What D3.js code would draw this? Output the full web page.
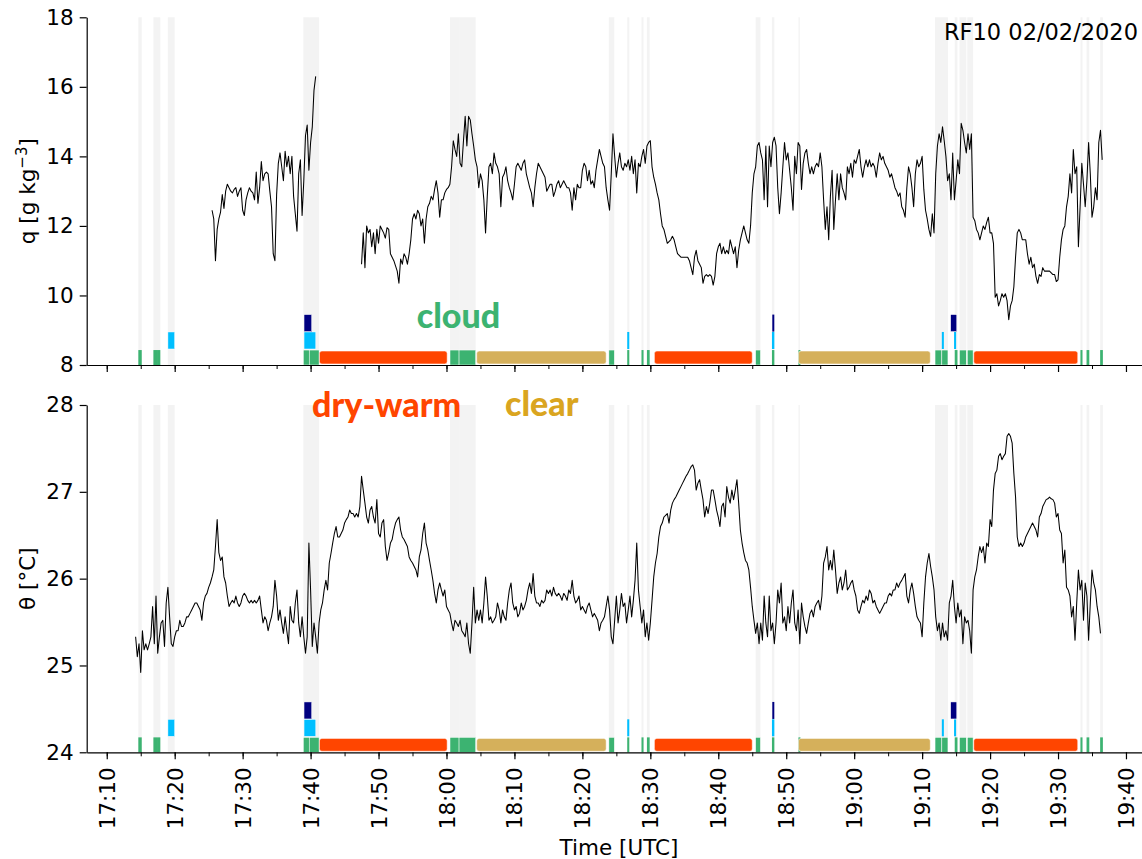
<!DOCTYPE html>
<html>
<head>
<meta charset="utf-8">
<script src="https://cdn.jsdelivr.net/npm/d3@7/dist/d3.min.js"></script>
<style>
  body { margin: 0; background: #fff; }
  text { font-family: "DejaVu Sans", sans-serif; }
</style>
</head>
<body>
<svg id="chart" width="1142" height="859"></svg>
<script>
// sampling of the flight series (one value every 15 s)
const sampleSec = 15;

// specific humidity, first leg and second leg
const qAStart = "17:25:30";
const qA = [
  12.45, 12.2, 11.0, 11.9, 12.2, 12.4, 12.9, 12.5, 13.0, 13.2,
  13.1, 13.0, 12.95, 13.05, 13.1, 12.85, 13.0, 13.1, 12.45, 12.3,
  12.75, 12.95, 13.1, 13.0, 12.95, 12.75, 13.55, 12.65, 13.1,
  13.85, 13.3, 13.5, 13.55, 13.5, 13.0, 12.55, 11.2, 11.0, 12.9,
  13.8, 14.1, 13.7, 13.3, 14.15, 13.7, 14.0, 13.5, 14.0, 12.85,
  12.35, 11.85, 13.5, 13.9, 12.3, 13.3, 14.6, 14.9, 13.6, 14.4,
  14.85, 15.9, 16.3
];

const qBStart = "17:47:30";
const qB = [
  10.9, 11.8, 10.8, 12.0, 11.8, 11.9, 11.4, 11.8, 11.2, 11.9, 11.5,
  12.0, 11.9, 11.8, 11.65, 11.95, 11.9, 11.2, 11.1, 11.0, 10.85,
  10.7, 10.35, 11.05, 10.9, 11.2, 11.1, 10.9, 11.2, 11.6, 12.2,
  12.35, 12.2, 12.45, 12.35, 12.0, 12.2, 11.5, 12.2, 12.55, 12.65,
  12.85, 12.75, 13.05, 13.3, 12.95, 12.25, 12.75, 12.75, 12.95, 13.05,
  13.1, 13.2, 13.7, 14.45, 14.2, 14.0, 14.65, 13.8, 13.7,
  14.45, 15.15, 14.3, 15.15, 15.05, 14.65, 14.3, 13.9, 13.7, 13.1,
  13.5, 13.3, 12.75, 11.8, 12.85, 13.7, 13.8, 13.5, 14.1, 13.8,
  13.7, 13.5, 12.55, 13.4, 13.5, 13.7, 13.3, 13.1, 12.95, 12.75,
  13.2, 13.7, 13.8, 13.7, 13.6, 13.8, 13.9, 13.5, 13.3, 13.1,
  12.95, 12.55, 13.1, 13.5, 13.8, 13.7, 13.6, 13.5, 13.4,
  13.0, 13.1, 13.2, 13.2, 12.85, 13.0, 13.2, 13.3, 13.1, 13.2,
  13.3, 13.2, 13.1, 13.1, 12.95, 12.45, 13.1, 12.75, 13.2, 13.1,
  13.1, 13.6, 13.8, 13.7, 13.3, 13.6, 13.2, 13.3, 13.1, 13.6,
  13.9, 14.2, 14.0, 13.8, 13.7, 13.1, 12.75, 12.45, 13.5, 14.65,
  14.0, 13.4, 13.8, 14.1, 13.7, 13.6, 13.8, 13.7, 13.9,
  13.6, 14.0, 13.5, 13.9, 12.95, 13.8, 13.7, 14.0, 14.2, 13.8,
  14.3, 14.4, 14.45, 13.7, 13.4, 13.2, 12.95, 12.75, 12.35, 12.0,
  11.9, 11.7, 11.5, 11.55, 11.6, 11.7, 11.6, 11.4, 11.2, 11.15,
  11.1, 11.1, 11.1, 11.1, 11.1, 11.0, 10.8, 10.6, 11.1, 11.3,
  11.0, 10.9, 10.8, 10.35, 10.55, 10.6, 10.55, 10.6, 10.55,
  10.3, 10.55, 11.2, 11.4, 11.5, 11.2, 11.4, 11.2, 11.3, 11.2,
  11.6, 11.4, 11.2, 11.4, 10.8, 11.3, 11.6, 11.8, 12.0, 11.8,
  11.6, 11.5, 12.0, 12.95, 13.5, 13.7, 14.3, 14.4, 14.1, 13.9,
  12.75, 14.3, 12.55, 14.3, 13.7, 14.4, 14.55, 14.3, 13.1, 12.35,
  12.95, 13.7, 14.4, 13.9, 14.1, 13.6, 13.1, 12.45, 14.0, 13.5,
  14.4, 14.3, 13.05, 13.8, 14.1, 14.2, 13.8, 13.5, 13.7, 13.5,
  13.7, 13.8, 13.7, 14.1, 13.7, 12.75, 11.9, 12.55, 11.6, 12.85,
  13.6, 11.9, 12.75, 13.5, 12.75, 13.5, 13.1, 12.95, 12.75, 13.7,
  13.5, 13.8, 13.4, 13.9, 13.8, 14.0, 14.2, 13.7, 13.4,
  13.7, 13.9, 13.7, 13.9, 13.7, 13.8, 13.7, 13.4, 13.8, 14.1,
  13.9, 14.0, 13.8, 13.7, 13.6, 13.4, 13.5, 13.3, 13.1, 13.0,
  12.85, 12.95, 12.55, 12.45, 12.25, 13.1, 13.7, 13.5, 13.1, 12.55,
  13.5, 13.9, 13.7, 13.8, 14.0, 13.05, 12.45, 12.2, 11.9, 11.7,
  12.35, 11.8, 13.5, 14.3, 14.65, 14.4, 14.85, 14.45, 14.0,
  13.3, 13.5, 12.75, 14.1, 12.75, 13.3, 13.9, 13.5, 14.95, 14.75,
  14.4, 14.1, 14.65, 14.2, 14.65, 12.25, 12.15, 11.9, 11.8, 11.6,
  11.8, 12.0, 11.9, 12.1, 12.25, 11.8, 11.8, 11.5, 9.95, 10.05,
  9.7, 9.85, 10.05, 9.95, 10.05, 9.85, 9.3, 9.7, 9.85, 10.25,
  11.1, 11.8, 11.9, 11.8, 11.6, 11.6, 11.6, 11.2, 10.9,
  11.1, 10.8, 10.9, 10.55, 10.35, 10.6, 10.55, 10.8, 10.7, 10.7,
  10.7, 10.7, 10.65, 10.6, 10.6, 10.4, 10.45, 11.1, 11.6, 11.9,
  12.0, 12.55, 12.85, 13.5, 12.95, 14.2, 13.5, 13.7, 11.4, 12.55,
  13.8, 13.2, 12.55, 13.3, 14.4, 13.5, 12.25, 12.55, 13.1,
  12.75, 14.4, 14.75, 13.9
];

// potential temperature
const thetaStart = "17:14:15";
const theta = [
  25.33, 25.1, 25.25, 24.92, 25.4, 25.18, 25.25, 25.18, 25.25, 25.33,
  25.68, 25.25, 25.8, 25.14, 25.33, 25.49, 25.52, 25.22, 25.72, 25.9,
  25.56, 25.25, 25.22, 25.33, 25.4, 25.4, 25.52, 25.45, 25.45, 25.49,
  25.56, 25.56, 25.6, 25.64, 25.68, 25.72, 25.72, 25.68, 25.64, 25.52,
  25.72, 25.8, 25.83, 25.9, 25.95, 26.02, 26.1, 26.37, 26.68, 26.3,
  26.21, 26.25, 26.02, 25.95, 25.8, 25.68, 25.72, 25.75, 25.72,
  25.8, 25.72, 25.68, 25.72, 25.8, 25.83, 25.8, 25.75, 25.72, 25.75,
  25.72, 25.75, 25.72, 25.75, 25.8, 25.64, 25.49, 25.56, 25.52, 25.4,
  25.49, 25.56, 25.68, 25.98, 25.8, 25.52, 25.64, 25.49, 25.37, 25.56,
  25.4, 25.25, 25.68, 25.52, 25.49, 25.72, 25.87, 25.49, 25.33, 25.56,
  25.33, 25.14, 25.33, 26.41, 25.87, 25.22, 25.49, 25.33, 25.14,
  25.49, 25.64, 25.72, 25.87, 25.98, 25.87, 26.18, 26.29, 26.41, 26.52,
  26.6, 26.48, 26.48, 26.52, 26.56, 26.64, 26.68, 26.71, 26.79, 26.75,
  26.75, 26.71, 26.75, 26.71, 26.83, 27.18, 27.02, 26.87, 26.71, 26.64,
  26.79, 26.83, 26.71, 26.64, 26.91, 26.52,
  26.48, 26.64, 26.68, 26.37, 26.21, 26.3, 26.41, 26.45, 26.56, 26.64,
  26.68, 26.71, 26.56, 26.48, 26.45, 26.41, 26.37, 26.25, 26.21, 26.18,
  26.14, 26.1, 26.02, 26.25, 26.33, 26.52, 26.64, 26.41, 26.33, 26.21,
  26.1, 25.98, 25.83, 25.72, 25.87, 25.95, 25.87, 25.8, 25.87, 25.68,
  25.64, 25.6, 25.49, 25.4, 25.52, 25.49, 25.45, 25.52, 25.4,
  25.37, 25.33, 25.49, 25.25, 25.14, 25.49, 25.9, 25.49, 25.64, 25.52,
  25.64, 25.49, 25.72, 26.02, 25.8, 25.52, 25.56, 25.49, 25.52, 25.56,
  25.72, 25.64, 25.49, 25.64, 25.56, 25.52, 25.72, 25.87, 25.95, 25.72,
  25.64, 25.68, 25.56, 25.6, 25.72, 25.64, 25.68, 25.75, 25.87, 25.95,
  25.83, 26.06, 25.8, 25.72, 25.72, 25.68, 25.75, 25.72, 25.75,
  25.87, 25.83, 25.87, 25.8, 25.9, 25.83, 25.8, 25.83, 25.8, 25.75,
  25.83, 25.8, 25.75, 25.87, 25.83, 25.98, 25.8, 25.72, 25.75, 25.8,
  25.64, 25.68, 25.64, 25.6, 25.68, 25.72, 25.64, 25.56, 25.6, 25.56,
  25.52, 25.4, 25.49, 25.52, 25.56, 25.68, 25.8, 25.64, 25.33, 25.25,
  25.52, 25.8, 25.49, 25.64, 25.83, 25.68, 25.72, 25.49, 25.64,
  25.8, 25.56, 25.75, 25.98, 26.41, 25.87, 25.68, 25.49, 25.64, 25.33,
  25.49, 25.29, 25.49, 25.75, 26.02, 26.18, 26.29, 26.48, 26.6, 26.64,
  26.71, 26.73, 26.75, 26.64, 26.79, 26.87, 26.91, 26.94, 26.98, 27.02,
  27.06, 27.1, 27.14, 27.18, 27.21, 27.25, 27.29, 27.31, 27.25, 27.02,
  27.1, 27.14, 27.02, 26.91, 26.71, 26.83, 26.75, 26.87, 27.02,
  27.02, 26.91, 26.79, 26.71, 26.6, 26.83, 26.87, 26.71, 27.06, 26.94,
  26.87, 27.02, 26.91, 27.02, 27.14, 26.87, 26.56, 26.41, 26.3, 26.21,
  26.18, 26.1, 25.9, 25.68, 25.52, 25.37, 25.49, 25.25, 25.49, 25.29,
  25.8, 25.49, 25.33, 25.8, 25.4, 25.49, 25.25, 25.49, 25.87, 25.72,
  25.95, 25.49, 25.56, 25.4, 25.68, 25.49, 25.72, 25.87, 25.49, 25.4,
  25.64, 25.25, 25.72, 25.56, 25.45, 25.37, 25.49, 25.6, 25.64, 25.56,
  25.68, 25.72, 25.75, 25.64, 25.8, 26.18, 26.25, 26.37, 26.1, 26.21,
  26.1, 26.33, 26.1, 25.83, 25.95, 26.02, 25.87, 25.95, 26.1, 25.87,
  25.9, 25.95, 25.98, 25.87, 25.8, 25.64, 25.6, 25.68, 25.75, 25.72,
  25.8, 25.75, 25.87, 25.83, 25.72, 25.75, 25.68, 25.64, 25.6,
  25.64, 25.68, 25.72, 25.72, 25.8, 25.83, 25.8, 25.87, 25.87, 25.95,
  25.9, 25.95, 25.98, 26.02, 26.06, 25.8, 25.72, 25.87, 25.95, 25.83,
  25.68, 25.56, 25.52, 25.49, 25.33, 25.72, 26.02, 26.18, 26.29, 26.14,
  26.02, 25.87, 25.56, 25.4, 25.49, 25.29, 25.49, 25.33, 25.4, 25.29,
  25.72, 25.8, 25.98, 25.68, 25.49, 25.72, 25.56, 25.64, 25.25,
  25.56, 25.49, 25.52, 25.4, 25.14, 25.87, 26.02, 26.1, 26.25, 26.37,
  26.3, 26.37, 26.18, 26.41, 26.37, 26.68, 26.6, 27.02, 27.21, 27.25,
  27.41, 27.44, 27.37, 27.41, 27.44, 27.64, 27.67, 27.64, 27.56, 27.21,
  26.94, 26.48, 26.37, 26.41, 26.37, 26.41, 26.48, 26.52, 26.56, 26.6,
  26.64, 26.6, 26.56, 26.48, 26.71, 26.75, 26.83, 26.87, 26.91,
  26.92, 26.94, 26.92, 26.91, 26.87, 26.71, 26.75, 26.56, 26.52, 26.18,
  26.33, 25.9, 25.87, 25.8, 25.56, 25.68, 25.29, 25.72, 26.1, 25.87,
  25.98, 25.52, 25.95, 25.8, 25.29, 25.72, 26.1, 25.95, 25.87,
  25.68, 25.56, 25.37
];

// flagged segments [start, end] UTC
const cloudSegs = [
  ["17:14:39", "17:15:09"], ["17:16:52", "17:17:24"], ["17:17:24", "17:17:53"],
  ["17:38:56", "17:39:48"], ["17:39:48", "17:41:15"],
  ["18:00:31", "18:01:51"], ["18:01:51", "18:04:18"],
  ["18:23:54", "18:24:42"], ["18:26:36", "18:26:54"], ["18:28:42", "18:29:00"],
  ["18:29:30", "18:29:54"], ["18:45:30", "18:46:12"], ["18:47:54", "18:48:15"],
  ["18:51:48", "18:52:00"], ["19:11:54", "19:12:54"], ["19:12:54", "19:13:48"],
  ["19:14:48", "19:15:12"], ["19:15:30", "19:16:30"], ["19:16:39", "19:17:30"],
  ["19:33:18", "19:33:36"], ["19:34:12", "19:34:36"], ["19:36:12", "19:36:36"]
];
const drizzleSegs = [
  ["17:19:00", "17:20:00"], ["17:39:02", "17:40:46"], ["18:26:36", "18:26:54"],
  ["18:47:54", "18:48:15"], ["19:12:54", "19:13:12"], ["19:14:42", "19:15:00"]
];
const rainSegs = [
  ["17:39:02", "17:40:10"], ["18:47:57", "18:48:12"], ["19:14:12", "19:15:06"]
];
const dryWarmSegs = [
  ["17:41:18", "18:00:06"], ["18:30:36", "18:45:00"], ["19:17:36", "19:32:54"]
];
const clearSegs = [
  ["18:04:27", "18:23:30"], ["18:51:48", "19:11:12"]
];

// category labels
const labelText = ["cloud", "dry-warm", "clear"];
const labelTime = ["17:55:37", "17:40:13", "18:08:37"];
const labelPanel = [0, 1, 1];
const labelValue = [9.07, 27.86, 27.87];

const qTicks = [8, 10, 12, 14, 16, 18];
const thetaTicks = [24, 25, 26, 27, 28];
const xLimits = ["17:07:03", "19:42:48"];

// ------------------------------------------------------------------
const parseT = s => {
  const [h, m, sec] = s.split(":").map(Number);
  return new Date(Date.UTC(2020, 1, 2, h, m, sec || 0));
};
const toSeries = (start, vals) => {
  const t0 = parseT(start).getTime();
  return vals.map((v, i) => ({ t: new Date(t0 + i * sampleSec * 1000), v }));
};

const svg = d3.select("#chart");
const x = d3.scaleUtc()
  .domain(xLimits.map(parseT))
  .range([86.7, 1145]);

const panels = [
  { series: [toSeries(qAStart, qA), toSeries(qBStart, qB)], domain: [8, 18], ticks: qTicks,
    top: 17.3, bottom: 365 },
  { series: [toSeries(thetaStart, theta)], domain: [24, 28], ticks: thetaTicks,
    top: 405, bottom: 752.3 }
];

const barRows = [
  { segs: cloudSegs, color: "#3cb371", f: [0, 0.043], rx: 0 },
  { segs: drizzleSegs, color: "#00bfff", f: [0.046, 0.095], rx: 0 },
  { segs: rainSegs, color: "#000080", f: [0.096, 0.145], rx: 0 },
  { segs: dryWarmSegs, color: "#ff4500", f: [0.003, 0.04], rx: 2.5 },
  { segs: clearSegs, color: "#d5b05b", f: [0.003, 0.04], rx: 2.5 }
];

// shade cloud periods, plus drizzle periods that have no cloud flag
const overlaps = (a, b) => parseT(a[0]) < parseT(b[1]) && parseT(b[0]) < parseT(a[1]);
const shadeSegs = cloudSegs.concat(drizzleSegs.filter(d => !cloudSegs.some(c => overlaps(c, d))));

panels.forEach((p, pi) => {
  const y = d3.scaleLinear().domain(p.domain).range([p.bottom, p.top]);
  const span = p.domain[1] - p.domain[0];
  const g = svg.append("g");

  g.append("g").selectAll("rect")
    .data(shadeSegs)
    .join("rect")
    .attr("x", d => x(parseT(d[0])))
    .attr("width", d => Math.max(1, x(parseT(d[1])) - x(parseT(d[0]))))
    .attr("y", p.top)
    .attr("height", p.bottom - p.top)
    .attr("fill", "#d8d8d8")
    .attr("opacity", 0.3);

  barRows.forEach(row => {
    g.append("g").selectAll("rect")
      .data(row.segs)
      .join("rect")
      .attr("x", d => x(parseT(d[0])))
      .attr("width", d => Math.max(2, x(parseT(d[1])) - x(parseT(d[0]))))
      .attr("y", y(p.domain[0] + row.f[1] * span))
      .attr("height", y(p.domain[0] + row.f[0] * span) - y(p.domain[0] + row.f[1] * span))
      .attr("rx", row.rx)
      .attr("fill", row.color)
      .attr("stroke", d => (x(parseT(d[1])) - x(parseT(d[0]))) > 4 ? "#fff" : "none")
      .attr("stroke-width", 0.5);
  });

  const line = d3.line().x(d => x(d.t)).y(d => y(d.v));
  p.series.forEach(s => {
    g.append("path")
      .datum(s)
      .attr("fill", "none")
      .attr("stroke", "#000")
      .attr("stroke-width", 1.05)
      .attr("stroke-linejoin", "round")
      .attr("d", line);
  });

  // y axis
  const ya = g.append("g")
    .attr("transform", `translate(${x.range()[0]},0)`)
    .call(d3.axisLeft(y).tickValues(p.ticks).tickFormat(d3.format("d"))
      .tickSize(7).tickSizeOuter(0).tickPadding(6));
  ya.selectAll("text").style("font-size", "21.5px").attr("fill", "#000");
  ya.selectAll("line, path").attr("stroke", "#000").attr("stroke-width", 1.2);

  // x axis: minor 5-min ticks, major 10-min ticks
  const xMinor = g.append("g")
    .attr("transform", `translate(0,${p.bottom})`)
    .call(d3.axisBottom(x).ticks(d3.utcMinute.every(5)).tickSize(4).tickFormat(""));
  xMinor.select(".domain").remove();
  xMinor.selectAll("line").attr("stroke", "#000").attr("stroke-width", 1);

  const xa = g.append("g")
    .attr("transform", `translate(0,${p.bottom})`)
    .call(d3.axisBottom(x).ticks(d3.utcMinute.every(10)).tickSize(7).tickSizeOuter(0)
      .tickFormat(pi === 1 ? d3.utcFormat("%H:%M") : ""));
  xa.selectAll("line, path").attr("stroke", "#000").attr("stroke-width", 1.2);
  xa.selectAll("text")
    .style("font-size", "21.5px")
    .attr("fill", "#000")
    .attr("transform", "rotate(-90)")
    .attr("x", -15)
    .attr("y", 0)
    .attr("dy", "0.35em")
    .style("text-anchor", "end");

  p.y = y;
});

// y labels
const qLabel = svg.append("text")
  .attr("transform", `translate(35,${(panels[0].top + panels[0].bottom) / 2}) rotate(-90)`)
  .attr("text-anchor", "middle")
  .style("font-size", "21.5px");
qLabel.append("tspan").text("q [g kg");
qLabel.append("tspan").text("\u22123").attr("dy", "-8").style("font-size", "15px");
qLabel.append("tspan").text("]").attr("dy", "8");

svg.append("text")
  .attr("transform", `translate(35,${(panels[1].top + panels[1].bottom) / 2}) rotate(-90)`)
  .attr("text-anchor", "middle")
  .style("font-size", "21.5px")
  .text("\u03b8 [\u00b0C]");

svg.append("text")
  .attr("x", 619)
  .attr("y", 855)
  .attr("text-anchor", "middle")
  .style("font-size", "21.5px")
  .text("Time [UTC]");

svg.append("text")
  .attr("x", 1138)
  .attr("y", 39.5)
  .attr("text-anchor", "end")
  .style("font-size", "22.5px")
  .text("RF10 02/02/2020");

const labelColor = ["#3cb371", "#ff4500", "#daa520"];
labelText.forEach((t, i) => {
  svg.append("text")
    .attr("x", x(parseT(labelTime[i])))
    .attr("y", panels[labelPanel[i]].y(labelValue[i]))
    .attr("fill", labelColor[i])
    .style("font-family", "Lato, 'Open Sans', sans-serif")
    .style("font-weight", 900)
    .style("font-size", "34px")
    .text(t);
});
</script>
</body>
</html>
